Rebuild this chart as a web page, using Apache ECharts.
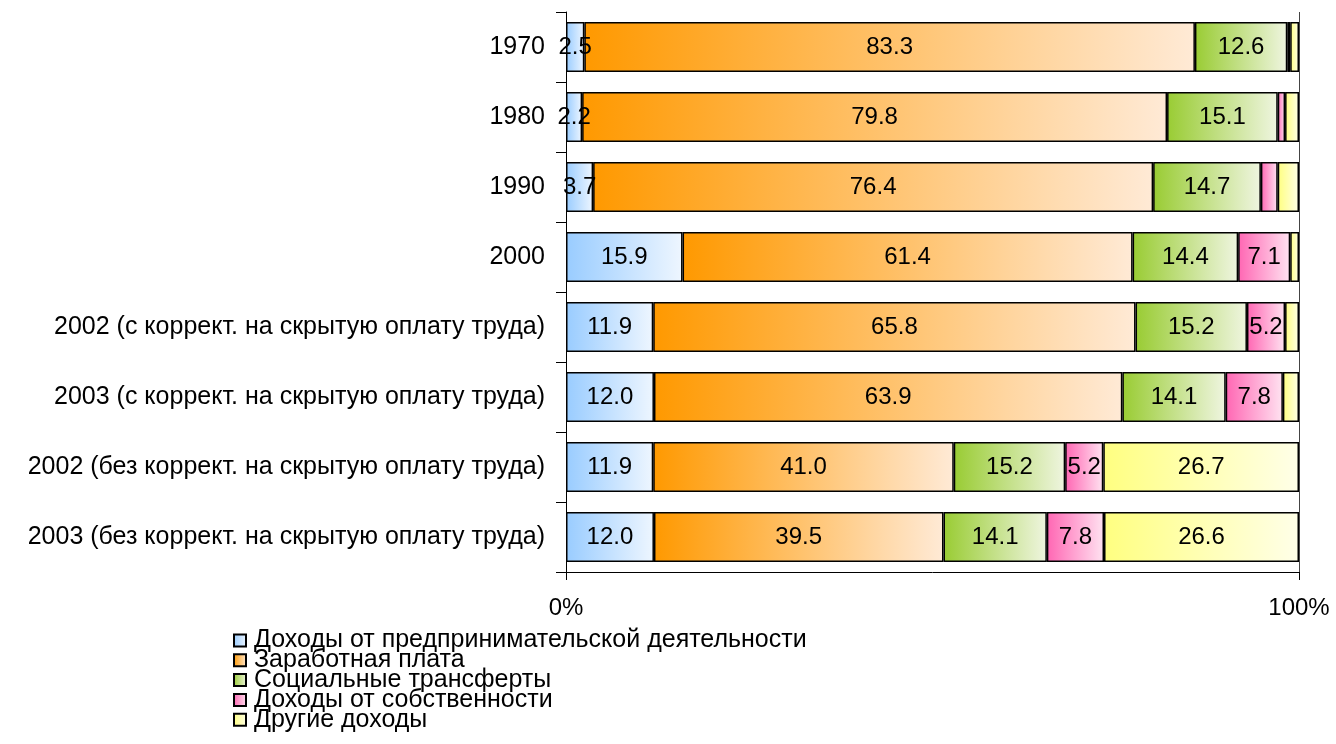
<!DOCTYPE html>
<html>
<head>
<meta charset="utf-8">
<script src="https://cdn.jsdelivr.net/npm/echarts@6/dist/echarts.min.js"></script>
<style>
  html, body { margin: 0; padding: 0; background: #fff; }
  #chart { width: 1336px; height: 744px; }
</style>
</head>
<body>
<div id="chart"></div>
<script>
// категории (сверху вниз)
const categories = [
  '1970',
  '1980',
  '1990',
  '2000',
  '2002 (с коррект. на скрытую оплату труда)',
  '2003 (с коррект. на скрытую оплату труда)',
  '2002 (без коррект. на скрытую оплату труда)',
  '2003 (без коррект. на скрытую оплату труда)'
];

const seriesNames = [
  'Доходы от предпринимательской деятельности',
  'Заработная плата',
  'Социальные трансферты',
  'Доходы от собственности',
  'Другие доходы'
];

const business  = [2.5, 2.2, 3.7, 15.9, 11.9, 12.0, 11.9, 12.0];
const wages     = [83.3, 79.8, 76.4, 61.4, 65.8, 63.9, 41.0, 39.5];
const transfers = [12.6, 15.1, 14.7, 14.4, 15.2, 14.1, 15.2, 14.1];
const property  = [0.4, 1.0, 2.3, 7.1, 5.2, 7.8, 5.2, 7.8];
const other     = [1.2, 1.9, 2.9, 1.2, 1.9, 2.2, 26.7, 26.6];

const xTicks = [0, 100];

// цвета градиента: слева насыщенный, справа светлый
const gradColors = [
  ['#99CCFF', '#EEF6FF'],
  ['#FF9900', '#FFEAD6'],
  ['#99CC33', '#EFF5E0'],
  ['#FF66B3', '#FFE3F1'],
  ['#FFFF80', '#FFFFE8']
];
// подписи маленьких сегментов на оригинале скрыты
const minLabel = [0, 0, 0, 5, 10];

const values = [business, wages, transfers, property, other];

const FONT = 'Liberation Sans, Arial, sans-serif';

const chart = echarts.init(document.getElementById('chart'));

const series = values.map((vals, i) => ({
  name: seriesNames[i],
  type: 'bar',
  stack: 'total',
  barWidth: 50,
  data: vals,
  itemStyle: {
    color: new echarts.graphic.LinearGradient(0, 0, 1, 0, [
      { offset: 0, color: gradColors[i][0] },
      { offset: 1, color: gradColors[i][1] }
    ]),
    borderColor: '#000',
    borderWidth: 1.5
  },
  label: {
    show: true,
    position: 'inside',
    color: '#000',
    fontSize: 24,
    fontFamily: FONT,
    formatter: p => (p.value >= minLabel[i] ? p.value.toFixed(1) : '')
  }
}));

// легенда: по одному элементу в строке, шаг ~20px
const legends = seriesNames.map((name, i) => ({
  orient: 'vertical',
  left: 233,
  top: 628 + i * 19.8,
  padding: 0,
  icon: 'rect',
  itemWidth: 12,
  itemHeight: 12,
  itemGap: 0,
  textStyle: { fontSize: 25, color: '#000', fontFamily: FONT, padding: [0, 0, 0, 3] },
  data: [name]
}));

const option = {
  animation: false,
  textStyle: { fontFamily: FONT },
  grid: { left: 566, right: 37, top: 12, bottom: 172, containLabel: false },
  xAxis: {
    type: 'value',
    min: xTicks[0],
    max: xTicks[xTicks.length - 1],
    interval: 100,
    axisLine: { show: true, lineStyle: { color: '#000', width: 1 } },
    axisTick: { show: true, length: 8, lineStyle: { color: '#000' } },
    axisLabel: { formatter: '{value}%', fontSize: 24, color: '#000', margin: 24 },
    splitLine: { show: true, lineStyle: { color: '#444', width: 1 } }
  },
  yAxis: {
    type: 'category',
    inverse: true,
    data: categories,
    axisLine: { show: true, lineStyle: { color: '#000', width: 1 } },
    axisTick: { show: true, length: 10, lineStyle: { color: '#000' } },
    axisLabel: { fontSize: 25, color: '#000', margin: 21 }
  },
  legend: legends,
  series: series
};

chart.setOption(option);
</script>
</body>
</html>
